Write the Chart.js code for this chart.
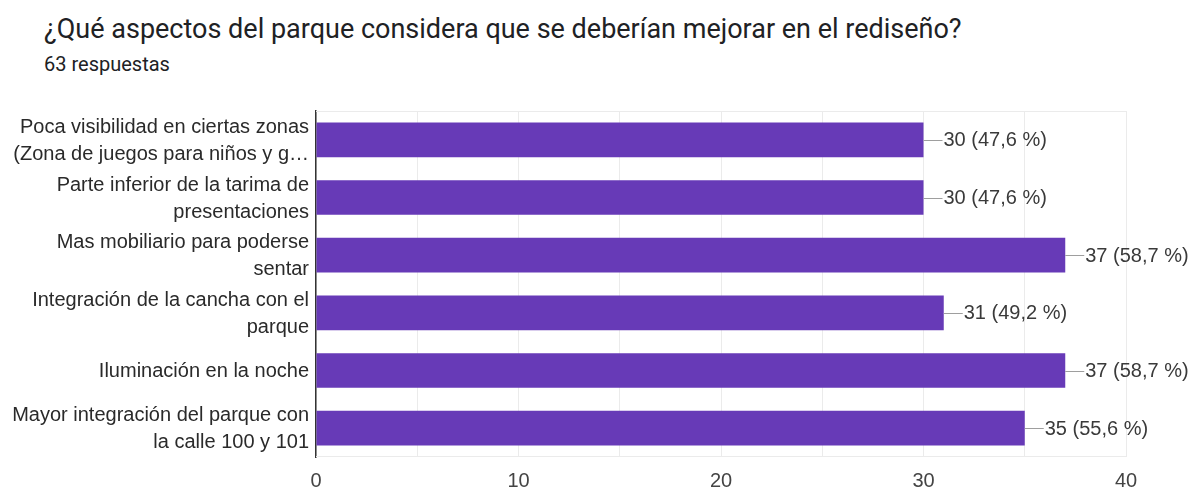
<!DOCTYPE html>
<html>
<head>
<meta charset="utf-8">
<script src="https://cdn.jsdelivr.net/npm/chart.js@4"></script>
<style>
  html, body { margin: 0; padding: 0; background: #fff; }
  #wrap { position: relative; width: 1202px; height: 491px; overflow: hidden; }
  #title { position: absolute; left: 44px; top: 13px; font-family: Roboto, "Noto Sans", sans-serif; font-size: 27px; color: #202124; white-space: nowrap; }
  #sub { position: absolute; left: 44px; top: 52px; font-family: Roboto, "Noto Sans", sans-serif; font-size: 20px; color: #202124; white-space: nowrap; }
  canvas { position: absolute; left: 0; top: 0; }
</style>
</head>
<body>
<div id="wrap">
  <div id="title">¿Qué aspectos del parque considera que se deberían mejorar en el rediseño?</div>
  <div id="sub">63 respuestas</div>
  <canvas id="c" width="1202" height="491"></canvas>
</div>
<script>
const categories = [
  ["Poca visibilidad en ciertas zonas", "(Zona de juegos para niños y g…"],
  ["Parte inferior de la tarima de", "presentaciones"],
  ["Mas mobiliario para poderse", "sentar"],
  ["Integración de la cancha con el", "parque"],
  ["Iluminación en la noche"],
  ["Mayor integración del parque con", "la calle 100 y 101"]
];
const counts = [30, 30, 37, 31, 37, 35];
const percents = ["47,6", "47,6", "58,7", "49,2", "58,7", "55,6"];
const xTicks = [0, 10, 20, 30, 40];

const frame = {
  id: 'frame',
  beforeDatasetsDraw(chart) {
    const {ctx, chartArea: a} = chart;
    ctx.save();
    ctx.strokeStyle = '#ebebeb';
    ctx.lineWidth = 1;
    ctx.beginPath();
    ctx.moveTo(a.left, a.top + 0.5); ctx.lineTo(a.right, a.top + 0.5);
    ctx.moveTo(a.left, a.bottom - 0.5); ctx.lineTo(a.right, a.bottom - 0.5);
    ctx.stroke();
    ctx.restore();
  }
};

const valueLabels = {
  id: 'valueLabels',
  afterDatasetsDraw(chart) {
    const {ctx} = chart;
    const meta = chart.getDatasetMeta(0);
    ctx.save();
    ctx.font = '20px "Liberation Sans", Arial, sans-serif';
    ctx.textBaseline = 'middle';
    ctx.textAlign = 'left';
    meta.data.forEach((bar, i) => {
      const x = bar.x, y = bar.y;
      ctx.strokeStyle = '#9e9e9e';
      ctx.lineWidth = 1;
      ctx.beginPath();
      ctx.moveTo(x, Math.round(y) + 0.5);
      ctx.lineTo(x + 19, Math.round(y) + 0.5);
      ctx.stroke();
      ctx.fillStyle = '#3a3a3a';
      ctx.fillText(counts[i] + ' (' + percents[i] + ' %)', x + 20, y + 1);
    });
    ctx.restore();
  }
};

new Chart(document.getElementById('c'), {
  type: 'bar',
  data: {
    labels: categories,
    datasets: [{
      data: counts,
      backgroundColor: '#673ab7',
      borderWidth: 0,
      barPercentage: 0.6,
      categoryPercentage: 1.0
    }]
  },
  options: {
    indexAxis: 'y',
    responsive: false,
    animation: false,
    layout: { padding: { top: 111, right: 76, left: 0, bottom: 0 } },
    plugins: { legend: { display: false }, tooltip: { enabled: false } },
    scales: {
      x: {
        min: 0, max: 40,
        afterFit: s => { s.height = 33; },
        grid: { color: '#ebebeb', drawTicks: false },
        border: { display: false },
        ticks: {
          stepSize: 5,
          padding: 12,
          color: '#444',
          font: { family: '"Liberation Sans", Arial, sans-serif', size: 20 },
          callback: v => xTicks.includes(v) ? String(v) : ''
        }
      },
      y: {
        afterFit: s => { s.width = 316; },
        grid: { display: false, drawTicks: false },
        border: { display: true, color: '#333', width: 1.5 },
        ticks: {
          padding: 7,
          labelOffset: 1,
          color: '#2a2a2a',
          autoSkip: false,
          font: { family: '"Liberation Sans", Arial, sans-serif', size: 20, lineHeight: 1.35 }
        }
      }
    }
  },
  plugins: [frame, valueLabels]
});
</script>
</body>
</html>
